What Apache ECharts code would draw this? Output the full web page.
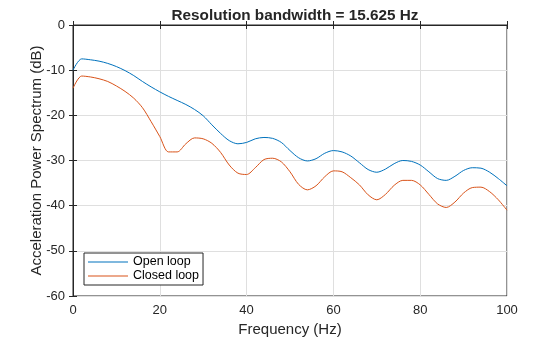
<!DOCTYPE html>
<html>
<head>
<meta charset="utf-8">
<script src="https://cdn.jsdelivr.net/npm/echarts@6/dist/echarts.min.js"></script>
<style>html,body{margin:0;padding:0;background:#fff}#c{width:560px;height:337px}</style>
</head>
<body>
<div id="c"></div>
<script>
var freq = [0,2,4,6,8,10,12,14,16,18,20,22,24,26,28,30,32,34,36,38,40,42,44,46,48,50,52,54,56,58,60,62,64,66,68,70,72,74,76,78,80,82,84,86,88,90,92,94,96,98,100];
var openLoop = [-10,-7.5,-7.7,-8.0,-8.5,-9.2,-10.1,-11.2,-12.5,-13.7,-14.8,-15.8,-16.7,-17.6,-18.7,-20.1,-22.1,-24.0,-25.6,-26.3,-26.0,-25.2,-24.9,-25.1,-26.0,-27.8,-29.4,-30.1,-29.6,-28.4,-27.8,-28.1,-29.0,-30.5,-32.0,-32.6,-31.9,-30.7,-30.0,-30.2,-31.0,-32.5,-34.0,-34.4,-33.5,-32.2,-31.6,-31.7,-32.6,-34.0,-35.6];
var closedLoop = [-14,-11.3,-11.5,-11.9,-12.5,-13.5,-14.7,-16.2,-18.3,-21.4,-24.7,-28.1,-28.1,-26.3,-25.0,-25.2,-26.2,-28.2,-31.0,-32.8,-33.1,-31.6,-29.8,-29.5,-30.3,-32.5,-35.3,-36.5,-35.6,-33.6,-32.3,-32.5,-33.8,-35.4,-37.6,-38.7,-37.5,-35.5,-34.4,-34.4,-35.4,-37.5,-39.6,-40.4,-39.2,-37.2,-36.0,-35.9,-36.9,-38.7,-41.0];
var seriesNames = ['Open loop','Closed loop'];
var xTicks = [0,20,40,60,80,100];
var yTicks = [0,-10,-20,-30,-40,-50,-60];

function zip(x, y){ return x.map(function(v,i){ return [v, y[i]]; }); }
var font = 'Liberation Sans, Arial, sans-serif';
var chart = echarts.init(document.getElementById('c'), null, {renderer:'canvas'});
var axColor = '#262626';
var option = {
  animation:false,
  title:{text:'Resolution bandwidth = 15.625 Hz', left:290, top:3, textAlign:'center',
    textStyle:{fontFamily:font, fontSize:15.3, fontWeight:'bold', color:'#262626'}},
  grid:{left:73, right:53, top:25, bottom:41, show:true, borderColor:axColor, borderWidth:1, backgroundColor:'#fff',
    outerBoundsMode:'none', containLabel:false},
  legend:{left:84, top:253, orient:'vertical', itemGap:0, itemWidth:40, itemHeight:1, icon:'rect',
    padding:[2,4,2,4], borderColor:axColor, borderWidth:1, backgroundColor:'#fff',
    textStyle:{fontFamily:font, fontSize:12.5, lineHeight:14, color:'#000'},
    data:seriesNames},
  xAxis:[{type:'value', min:xTicks[0], max:xTicks[xTicks.length-1], interval:20,
    name:'Frequency (Hz)', nameLocation:'middle', nameGap:26, nameMoveOverlap:false,
    nameTextStyle:{fontFamily:font, fontSize:15, color:'#262626'},
    axisLine:{show:true, lineStyle:{color:axColor}}, axisTick:{inside:true, length:4, lineStyle:{color:axColor}},
    axisLabel:{fontFamily:font, fontSize:13, color:'#262626', margin:8},
    splitLine:{show:true, lineStyle:{color:'#dfdfdf'}}},
    {type:'value', position:'top', min:0, max:100, interval:20,
    axisLine:{show:true, lineStyle:{color:axColor}}, axisTick:{inside:true, length:4, lineStyle:{color:axColor}},
    axisLabel:{show:false}, splitLine:{show:false}}],
  yAxis:[{type:'value', min:yTicks[yTicks.length-1], max:yTicks[0], interval:10,
    name:'Acceleration Power Spectrum (dB)', nameLocation:'middle', nameGap:29, nameMoveOverlap:false,
    nameTextStyle:{fontFamily:font, fontSize:15, color:'#262626'},
    axisLine:{show:true, lineStyle:{color:axColor}}, axisTick:{inside:true, length:4, lineStyle:{color:axColor}},
    axisLabel:{fontFamily:font, fontSize:13, color:'#262626', margin:8},
    splitLine:{show:true, lineStyle:{color:'#dfdfdf'}}},
    {type:'value', position:'right', min:-60, max:0, interval:10,
    axisLine:{show:true, lineStyle:{color:axColor}}, axisTick:{inside:true, length:4, lineStyle:{color:axColor}},
    axisLabel:{show:false}, splitLine:{show:false}}],
  series:[
    {name:seriesNames[0], type:'line', data:zip(freq, openLoop), symbol:'none', smooth:0.3,
      lineStyle:{color:'#0072BD', width:1}, itemStyle:{color:'#0072BD'}},
    {name:seriesNames[1], type:'line', data:zip(freq, closedLoop), symbol:'none', smooth:0.3,
      lineStyle:{color:'#D95319', width:1}, itemStyle:{color:'#D95319'}}
  ]
};
chart.setOption(option);
</script>
</body>
</html>
